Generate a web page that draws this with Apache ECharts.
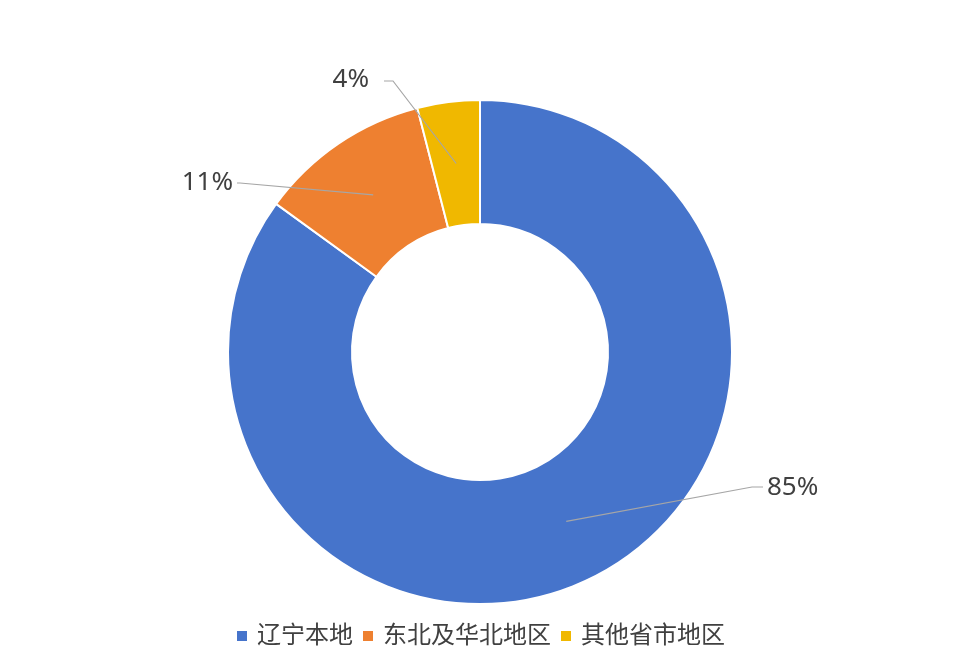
<!DOCTYPE html>
<html>
<head>
<meta charset="utf-8">
<script src="https://cdn.jsdelivr.net/npm/echarts@6/dist/echarts.min.js"></script>
<style>html,body{margin:0;padding:0;background:#fff;}#c{width:960px;height:656px;}</style>
</head>
<body>
<div id="c"></div>
<script>
const categories = ['辽宁本地', '东北及华北地区', '其他省市地区'];
const values = [85, 11, 4];
const colors = ['#4674CB', '#EE8030', '#F0B800'];

const chart = echarts.init(document.getElementById('c'));
const data = categories.map((n, i) => ({ name: n, value: values[i], itemStyle: { color: colors[i] } }));

// label placement (pixel layout)
const labelPlace = [
  { x: 767, y: 488, align: 'left', elbow: [752, 487], end: [763, 487] },
  { x: 233, y: 183, align: 'right', elbow: [240, 183], end: [237, 183] },
  { x: 369, y: 80, align: 'right', elbow: [393, 81], end: [384, 81] }
];

const font = "'Noto Sans', 'Noto Sans CJK SC', sans-serif";

chart.setOption({
  backgroundColor: '#ffffff',
  animation: false,
  legend: {
    bottom: 3,
    left: 'center',
    icon: 'rect',
    itemWidth: 12,
    itemHeight: 12,
    itemGap: 8,
    data: categories,
    textStyle: { fontSize: 24, color: '#404040', fontFamily: font, padding: [0, 0, 0, 4] }
  },
  series: [
    {
      type: 'pie',
      z: 1,
      center: ['50%', 352],
      radius: [128, 252],
      startAngle: 90,
      clockwise: true,
      data: data,
      label: { show: false },
      labelLine: { show: false },
      itemStyle: { borderColor: '#ffffff', borderWidth: 2 },
      emphasis: { disabled: true }
    },
    {
      type: 'pie',
      z: 5,
      center: ['50%', 352],
      radius: [0, 190],
      startAngle: 90,
      clockwise: true,
      silent: true,
      data: data.map(d => ({ name: d.name, value: d.value, itemStyle: { color: 'rgba(0,0,0,0)' } })),
      itemStyle: { borderWidth: 0 },
      label: {
        show: true,
        position: 'outside',
        formatter: p => p.value + '%',
        fontSize: 26,
        color: '#404040',
        fontFamily: font
      },
      labelLine: { show: true, length: 20, length2: 10, lineStyle: { color: '#A6A6A6', width: 1.2 } },
      labelLayout: function (params) {
        const lp = labelPlace[params.dataIndex];
        const p0 = params.labelLinePoints ? params.labelLinePoints[0] : lp.elbow;
        return {
          x: lp.x,
          y: lp.y,
          align: lp.align,
          verticalAlign: 'middle',
          labelLinePoints: [p0, lp.elbow, lp.end]
        };
      },
      emphasis: { disabled: true }
    }
  ]
});
</script>
</body>
</html>
